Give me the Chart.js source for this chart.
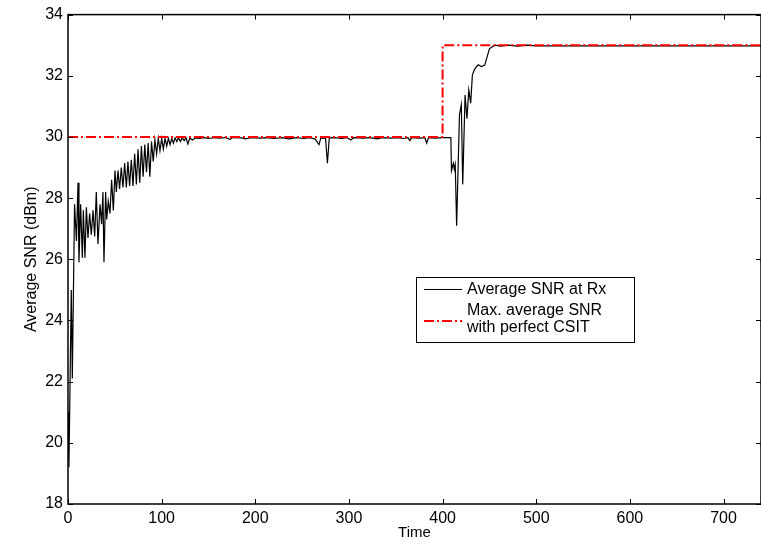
<!DOCTYPE html>
<html>
<head>
<meta charset="utf-8">
<title>Average SNR</title>
<script src="https://cdn.jsdelivr.net/npm/chart.js@4"></script>
<style>
  html, body { margin: 0; padding: 0; background: #fff; }
</style>
</head>
<body>
<canvas id="snrChart" width="761" height="546"></canvas>
<script>
// Datos
const rxTime = [
  0, 1, 3.5, 4.6, 7, 9, 10.7, 11.7, 13.5, 15.3, 16.4, 18.1, 19.6, 21.3, 23.1, 24.9, 26.7, 28.5, 30.2, 32,
  34.2, 35.9, 37.3, 38.4, 40.2, 41.3, 43, 44.8, 46.6, 48.4, 50.2, 51.6, 53.4, 55.1, 56.9, 58.7, 60.5, 62.3, 64, 65.8,
  67.6, 69.4, 71.2, 73, 74.8, 76.6, 78.4, 80.2, 82, 83.8, 85.6, 87.4, 89.2, 91, 92.8, 94.6, 96.4, 98.2, 100, 101.8,
  103.6, 105.4, 107.2, 109, 110.8, 112.6, 114.4, 116.2, 118, 120, 122, 124, 126, 128, 130, 133, 136, 140, 146, 150,
  156, 162, 168, 173, 176, 185, 190, 195, 205, 212, 220, 228, 236, 244, 252, 258, 264, 268, 270, 275,
  277, 279, 285, 292, 298, 302, 305, 315, 322, 330, 336, 345, 352, 358, 363, 365, 367, 375, 381, 383,
  385, 392, 400, 408.8, 409.5, 411.5, 412.5, 413.5, 415, 418, 420, 421.5, 424, 426, 428, 430, 431.8, 434.4, 438, 441.5,
  445, 447, 450, 453, 456, 462, 470, 480, 490, 500, 520, 560, 600, 650, 700, 740
];
const rxSNR = [
  21.0, 19.2, 25.0, 22.1, 27.8, 26.6, 28.5, 25.9, 27.8, 26.05, 27.6, 26.05, 27.7, 26.7, 27.5, 26.8, 27.6, 26.75, 28.2, 26.5,
  27.8, 27.15, 28.2, 25.9, 28.2, 27.3, 27.9, 27.5, 28.6, 27.6, 28.9, 28.2, 28.9, 28.3, 29.0, 28.35, 29.15, 28.35, 29.2, 28.4,
  29.25, 28.4, 29.45, 28.45, 29.6, 28.5, 29.7, 28.7, 29.75, 28.85, 29.8, 28.7, 29.85, 29.2, 29.9, 29.45, 29.95, 29.55, 29.95, 29.6,
  29.95, 29.7, 29.95, 29.75, 29.95, 29.8, 29.97, 29.85, 29.97, 29.85, 29.97, 29.88, 29.97, 29.77, 29.96, 29.9, 29.97, 29.95, 29.98, 29.95,
  29.98, 29.96, 29.98, 29.92, 29.98, 29.97, 29.94, 29.98, 29.96, 29.98, 29.95, 29.98, 29.94, 29.98, 29.95, 29.98, 29.93, 29.75, 29.97, 29.96,
  29.14, 29.97, 29.98, 29.95, 29.98, 29.9, 29.98, 29.96, 29.98, 29.94, 29.98, 29.96, 29.98, 29.95, 29.98, 29.88, 29.98, 29.96, 29.98, 29.8,
  29.98, 29.96, 29.98, 29.98, 28.9, 29.14, 28.95, 29.1, 27.1, 30.72, 31.05, 28.45, 31.37, 30.6, 31.54, 31.1, 32.03, 32.23, 32.36, 32.3,
  32.35, 32.56, 32.88, 32.95, 33.0, 32.97, 33.0, 32.97, 33.0, 32.98, 32.98, 32.98, 32.98, 32.98, 32.98, 32.98
];
const csitTime = [0, 400, 400, 740];
const csitSNR = [30, 30, 33, 33];
const xTicks = [0, 100, 200, 300, 400, 500, 600, 700];
const yTicks = [18, 20, 22, 24, 26, 28, 30, 32, 34];

const fontFamily = "'Liberation Sans', Arial, sans-serif";
const redDash = [10, 3, 2, 3];

// Marco estilo Matlab con marcas hacia dentro y leyenda
const matlabFrame = {
  id: 'matlabFrame',
  afterDraw(chart) {
    const ctx = chart.ctx;
    const a = chart.chartArea;
    const sx = chart.scales.x;
    const sy = chart.scales.y;
    ctx.save();
    ctx.strokeStyle = '#000';
    ctx.lineWidth = 1.5;
    ctx.strokeRect(a.left, a.top, a.right - a.left, a.bottom - a.top);

    ctx.lineWidth = 1;
    const tl = 5;
    ctx.beginPath();
    xTicks.forEach(t => {
      const px = Math.round(sx.getPixelForValue(t)) + 0.5;
      ctx.moveTo(px, a.bottom); ctx.lineTo(px, a.bottom - tl);
      ctx.moveTo(px, a.top); ctx.lineTo(px, a.top + tl);
    });
    yTicks.forEach(t => {
      const py = Math.round(sy.getPixelForValue(t)) + 0.5;
      ctx.moveTo(a.left, py); ctx.lineTo(a.left + tl, py);
      ctx.moveTo(a.right, py); ctx.lineTo(a.right - tl, py);
    });
    ctx.stroke();

    // Leyenda
    const bx = 416.5, by = 277.5, bw = 218, bh = 65;
    ctx.fillStyle = '#fff';
    ctx.fillRect(bx, by, bw, bh);
    ctx.lineWidth = 1;
    ctx.strokeRect(bx, by, bw, bh);

    ctx.beginPath();
    ctx.moveTo(424, 289.5); ctx.lineTo(462, 289.5);
    ctx.stroke();

    ctx.strokeStyle = '#ff0000';
    ctx.lineWidth = 2;
    ctx.setLineDash(redDash);
    ctx.beginPath();
    ctx.moveTo(424, 321); ctx.lineTo(462, 321);
    ctx.stroke();
    ctx.setLineDash([]);

    ctx.fillStyle = '#000';
    ctx.font = '16px ' + fontFamily;
    ctx.textBaseline = 'middle';
    ctx.textAlign = 'left';
    ctx.fillText('Average SNR at Rx', 467, 290);
    ctx.fillText('Max. average SNR', 467, 311);
    ctx.fillText('with perfect CSIT', 467, 328);
    ctx.restore();
  }
};

const ctx = document.getElementById('snrChart').getContext('2d');
new Chart(ctx, {
  type: 'line',
  data: {
    datasets: [{
      label: 'Max. average SNR with perfect CSIT',
      data: csitTime.map((t, i) => ({ x: t, y: csitSNR[i] })),
      borderColor: '#ff0000',
      borderWidth: 2,
      borderDash: redDash,
      pointRadius: 0,
      tension: 0,
      order: 0
    }, {
      label: 'Average SNR at Rx',
      data: rxTime.map((t, i) => ({ x: t, y: rxSNR[i] })),
      borderColor: '#000',
      borderWidth: 1.2,
      pointRadius: 0,
      tension: 0,
      order: 1
    }]
  },
  options: {
    responsive: false,
    animation: false,
    layout: { padding: { top: 12, right: 0, left: 0, bottom: 0 } },
    plugins: {
      legend: { display: false },
      tooltip: { enabled: false }
    },
    scales: {
      x: {
        type: 'linear',
        min: 0,
        max: 740,
        afterBuildTicks: s => { s.ticks = xTicks.map(v => ({ value: v })); },
        afterFit: s => { s.height = 42; },
        grid: { display: false, drawTicks: false },
        border: { display: false },
        ticks: { color: '#000', font: { family: fontFamily, size: 16 }, padding: 5, maxRotation: 0, autoSkip: false },
        title: { display: true, text: 'Time', color: '#000', font: { family: fontFamily, size: 15 }, padding: { top: 0, bottom: 4 } }
      },
      y: {
        min: 18,
        max: 34,
        afterBuildTicks: s => { s.ticks = yTicks.map(v => ({ value: v })); },
        afterFit: s => { s.width = 68; },
        grid: { display: false, drawTicks: false },
        border: { display: false },
        ticks: { color: '#000', font: { family: fontFamily, size: 16 }, padding: 5, autoSkip: false },
        title: { display: true, text: 'Average SNR (dBm)', color: '#000', font: { family: fontFamily, size: 16 }, padding: { top: 22, bottom: 0 } }
      }
    }
  },
  plugins: [matlabFrame]
});
</script>
</body>
</html>
